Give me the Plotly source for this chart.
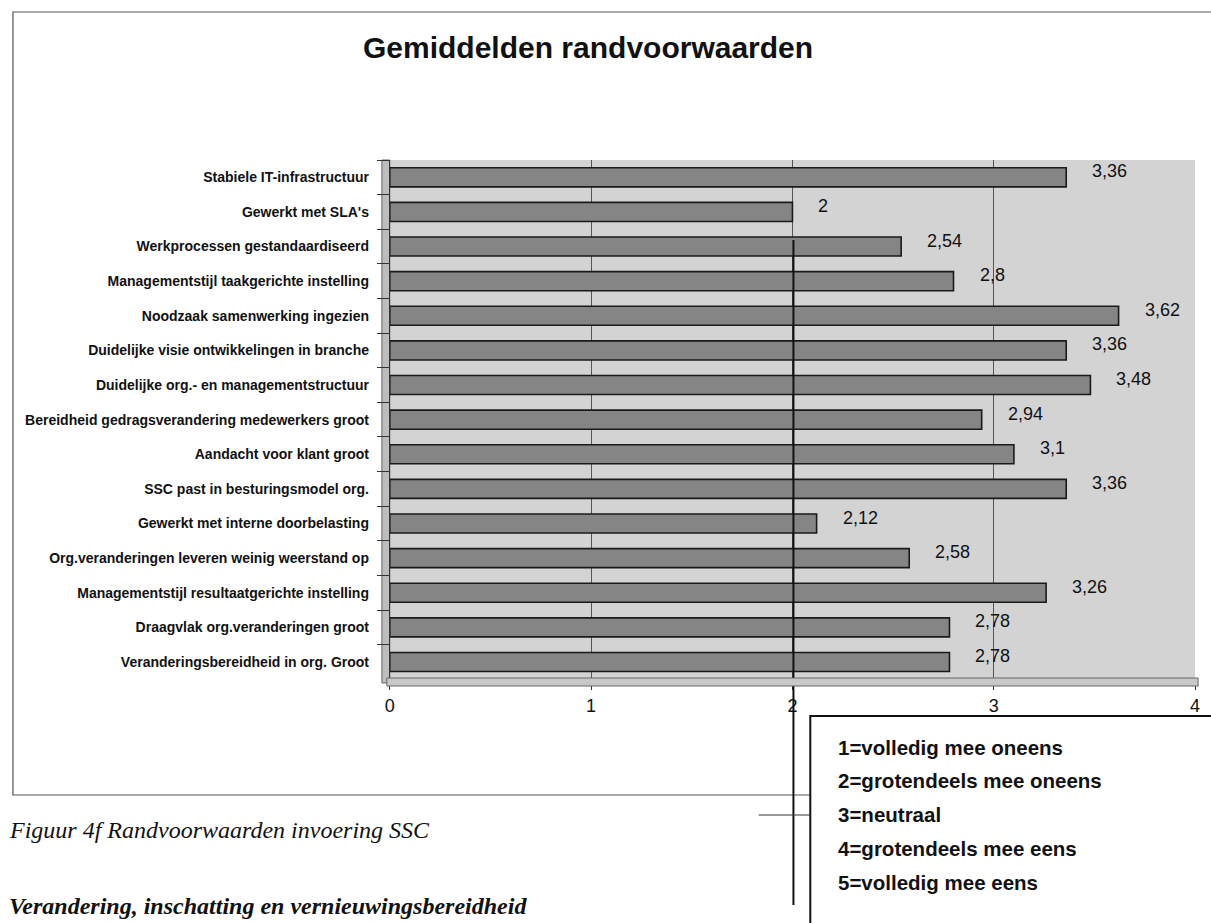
import plotly.graph_objects as go

W, H = 1211, 923

categories = [
    "Stabiele IT-infrastructuur",
    "Gewerkt met SLA's",
    "Werkprocessen gestandaardiseerd",
    "Managementstijl taakgerichte instelling",
    "Noodzaak samenwerking ingezien",
    "Duidelijke visie ontwikkelingen in branche",
    "Duidelijke org.- en managementstructuur",
    "Bereidheid gedragsverandering medewerkers groot",
    "Aandacht voor klant groot",
    "SSC past in besturingsmodel org.",
    "Gewerkt met interne doorbelasting",
    "Org.veranderingen leveren weinig weerstand op",
    "Managementstijl resultaatgerichte instelling",
    "Draagvlak org.veranderingen groot",
    "Veranderingsbereidheid in org. Groot",
]
values = [3.36, 2, 2.54, 2.8, 3.62, 3.36, 3.48, 2.94, 3.1, 3.36, 2.12, 2.58, 3.26, 2.78, 2.78]
x_ticks = [0, 1, 2, 3, 4]
legend_lines = [
    "1=volledig mee oneens",
    "2=grotendeels mee oneens",
    "3=neutraal",
    "4=grotendeels mee eens",
    "5=volledig mee eens",
]
title_text = "Gemiddelden randvoorwaarden"
caption_text = "Figuur 4f Randvoorwaarden invoering SSC"
next_heading = "Verandering, inschatting en vernieuwingsbereidheid"


def px(x):
    return x / W


def py(y):
    return 1 - y / H


fig = go.Figure()
fig.add_trace(go.Bar(
    x=values,
    y=categories,
    orientation="h",
    width=0.55,
    marker=dict(color="#858585", line=dict(color="#1a1a1a", width=1.6)),
    hoverinfo="x+y",
    showlegend=False,
))

annotations = []
for v, c in zip(values, categories):
    annotations.append(dict(
        x=v, y=c, xref="x", yref="y",
        text=f"{v:g}".replace(".", ","),
        showarrow=False, xanchor="left", yanchor="middle",
        xshift=24, yshift=6,
        font=dict(family="Liberation Sans, Arial", size=18, color="#111"),
    ))

annotations.append(dict(
    x=px(588), y=py(47), xref="paper", yref="paper", text=f"<b>{title_text}</b>",
    showarrow=False, xanchor="center", yanchor="middle",
    font=dict(family="Liberation Sans, Arial", size=30, color="#111"),
))
annotations.append(dict(
    x=px(2), y=py(830), xref="paper", yref="paper", text=f"<i>{caption_text}</i>",
    showarrow=False, xanchor="left", yanchor="middle",
    font=dict(family="Liberation Serif, Times New Roman", size=24, color="#111"),
))
annotations.append(dict(
    x=px(2), y=py(906), xref="paper", yref="paper", text=f"<b><i>{next_heading}</i></b>",
    showarrow=False, xanchor="left", yanchor="middle",
    font=dict(family="Liberation Serif, Times New Roman", size=24, color="#111"),
))
for i, line in enumerate(legend_lines):
    annotations.append(dict(
        x=px(838), y=py(747 + i * 33.8), xref="paper", yref="paper", text=f"<b>{line}</b>",
        showarrow=False, xanchor="left", yanchor="middle",
        font=dict(family="Liberation Sans, Arial", size=20.5, color="#111"),
    ))

shapes = [
    # outer frame
    dict(type="rect", xref="paper", yref="paper", x0=px(8), x1=px(1230), y0=py(795), y1=py(12),
         line=dict(color="#555", width=1.2), fillcolor="rgba(0,0,0,0)", layer="below"),
    # legend box
    dict(type="rect", xref="paper", yref="paper", x0=px(812), x1=px(1240), y0=py(950), y1=py(716),
         line=dict(color="#111", width=2), fillcolor="white", layer="above"),
    # stray vertical line from the scan
    dict(type="line", xref="paper", yref="paper", x0=px(795), x1=px(795), y0=py(240), y1=py(905),
         line=dict(color="#111", width=2), layer="above"),
    dict(type="line", xref="paper", yref="paper", x0=px(760), x1=px(812), y0=py(815), y1=py(815),
         line=dict(color="#333", width=1), layer="above"),
    # 3D side wall
    dict(type="rect", xref="paper", yref="paper", x0=px(380), x1=px(388), y0=py(683), y1=py(160),
         line=dict(color="#666", width=1), fillcolor="#bdbdbd", layer="below"),
    # 3D floor
    dict(type="rect", xref="paper", yref="paper", x0=px(385), x1=px(1203), y0=py(686), y1=py(678),
         line=dict(color="#666", width=1), fillcolor="#c8c8c8", layer="above"),
]

fig.update_layout(
    width=W, height=H,
    margin=dict(l=0, r=0, t=0, b=0),
    paper_bgcolor="white",
    plot_bgcolor="#d3d3d3",
    separators=", ",
    showlegend=False,
    annotations=annotations,
    shapes=shapes,
    xaxis=dict(
        domain=[px(388), px(1200)],
        range=[0, 4],
        tickvals=x_ticks,
        ticktext=[str(t) for t in x_ticks],
        ticks="outside", ticklen=9, tickcolor="#333",
        showgrid=True, gridcolor="#555", gridwidth=1,
        showline=True, linecolor="#333", linewidth=1,
        zeroline=False,
        ticklabelstandoff=0,
        tickfont=dict(family="Liberation Sans, Arial", size=18, color="#111"),
    ),
    yaxis=dict(
        domain=[py(680), py(160)],
        categoryorder="array", categoryarray=categories,
        autorange="reversed",
        ticks="outside", tickson="boundaries", ticklen=12, tickcolor="#333",
        showline=True, linecolor="#333", linewidth=1,
        showgrid=False,
        ticklabelstandoff=17,
        tickfont=dict(family="Liberation Sans, Arial", size=14, color="#111", weight="bold"),
    ),
    bargap=0.5,
)

fig.write_html("out.html")
